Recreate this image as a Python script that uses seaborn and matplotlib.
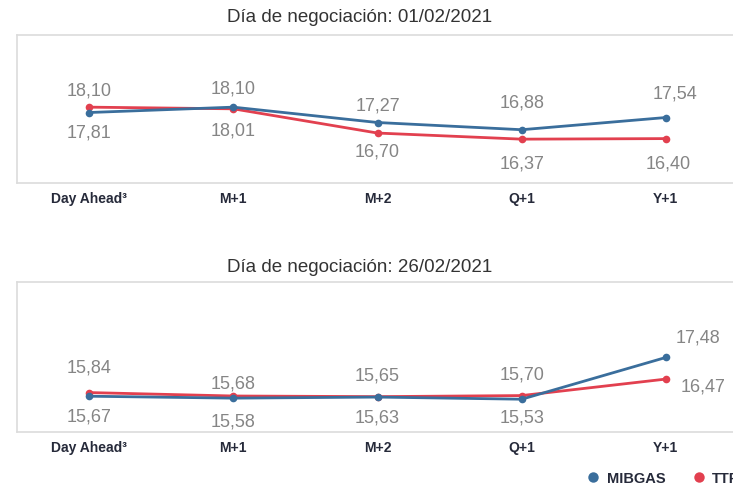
import matplotlib
matplotlib.use("Agg")
import matplotlib.pyplot as plt
from matplotlib.lines import Line2D
import seaborn as sns
import pandas as pd

# Products and series
products = ["Day Ahead³", "M+1", "M+2", "Q+1", "Y+1"]
series_names = ["MIBGAS", "TTF"]

# Trading day 01/02/2021
title_1 = "Día de negociación: 01/02/2021"
mibgas_1 = [17.81, 18.10, 17.27, 16.88, 17.54]
ttf_1 = [18.10, 18.01, 16.70, 16.37, 16.40]

# Trading day 26/02/2021
title_2 = "Día de negociación: 26/02/2021"
mibgas_2 = [15.67, 15.58, 15.63, 15.53, 17.48]
ttf_2 = [15.84, 15.68, 15.65, 15.70, 16.47]

colors = {"MIBGAS": "#3a6e9c", "TTF": "#e2404f"}
label_color = "#858585"
tick_color = "#262a3a"
frame_color = "#dcdcdc"

sns.set_theme(style="white")
plt.rcParams["font.family"] = ["Liberation Sans", "DejaVu Sans"]

fig = plt.figure(figsize=(7.33, 4.89), dpi=100)
W, H = 733, 489


def px_axes(left, top, right, bottom):
    return fig.add_axes([left / W, 1 - bottom / H, (right - left) / W, (bottom - top) / H])


def fmt(v):
    return f"{v:.2f}".replace(".", ",")


def draw_panel(ax, mib, ttf, ylim, offsets):
    df = pd.DataFrame({
        "product": products * 2,
        "value": mib + ttf,
        "series": ["MIBGAS"] * len(products) + ["TTF"] * len(products),
    })
    # TTF underneath, MIBGAS on top
    for name in ["TTF", "MIBGAS"]:
        sns.lineplot(data=df[df.series == name], x="product", y="value", color=colors[name],
                     marker="o", markersize=5.5, markeredgewidth=0, linewidth=2, ax=ax,
                     legend=False)
    ax.set_xlim(-0.5, len(products) - 0.5)
    ax.set_ylim(*ylim)
    ax.set_yticks([])
    ax.set_xlabel("")
    ax.set_ylabel("")
    ax.set_xticks(range(len(products)))
    ax.set_xticklabels(products, fontsize=10, color=tick_color, fontweight="bold")
    ax.tick_params(axis="x", length=0, pad=6)
    for s in ax.spines.values():
        s.set_color(frame_color)
        s.set_linewidth(1.2)
    ax.spines["right"].set_visible(False)
    # value labels; offsets are in pixels, positive = downwards
    for vals, offs in ((mib, offsets["MIBGAS"]), (ttf, offsets["TTF"])):
        for i, v in enumerate(vals):
            dx, dy = offs[i]
            ax.annotate(fmt(v), (i, v), xytext=(dx * 0.72, -dy * 0.72), textcoords="offset points",
                        ha="center", va="center", fontsize=13, color=label_color)
    return ax


ax1 = px_axes(17, 36, 738, 184)
draw_panel(ax1, mibgas_1, ttf_1, (14, 22), {
    "MIBGAS": [(0, 19), (0, -19), (0, -18), (0, -28), (9, -25)],
    "TTF": [(0, -17), (0, 21), (0, 18), (0, 24), (2, 24)],
})
fig.text(360 / W, 1 - 18 / H, title_1, ha="center", va="center", fontsize=13.5, color="#333333")

ax2 = px_axes(17, 283, 738, 433)
draw_panel(ax2, mibgas_2, ttf_2, (14, 21), {
    "MIBGAS": [(0, 20), (0, 23), (0, 20), (0, 18), (32, -20)],
    "TTF": [(0, -26), (0, -13), (0, -22), (0, -22), (37, 7)],
})
fig.text(360 / W, 1 - 268 / H, title_2, ha="center", va="center", fontsize=13.5, color="#333333")

handles = [Line2D([], [], linestyle="none", marker="o", markersize=7.5, markeredgewidth=0,
                  color=colors[n]) for n in series_names]
fig.legend(handles, series_names, loc="center left", bbox_to_anchor=(589 / W, 1 - 479 / H),
           ncol=2, frameon=False, fontsize=10.5, handlelength=0.6, handletextpad=0.6,
           columnspacing=2.0, labelcolor=tick_color, borderaxespad=0, borderpad=0,
           prop={"weight": "bold", "size": 10.5})

fig.savefig("out.png", dpi=100)
